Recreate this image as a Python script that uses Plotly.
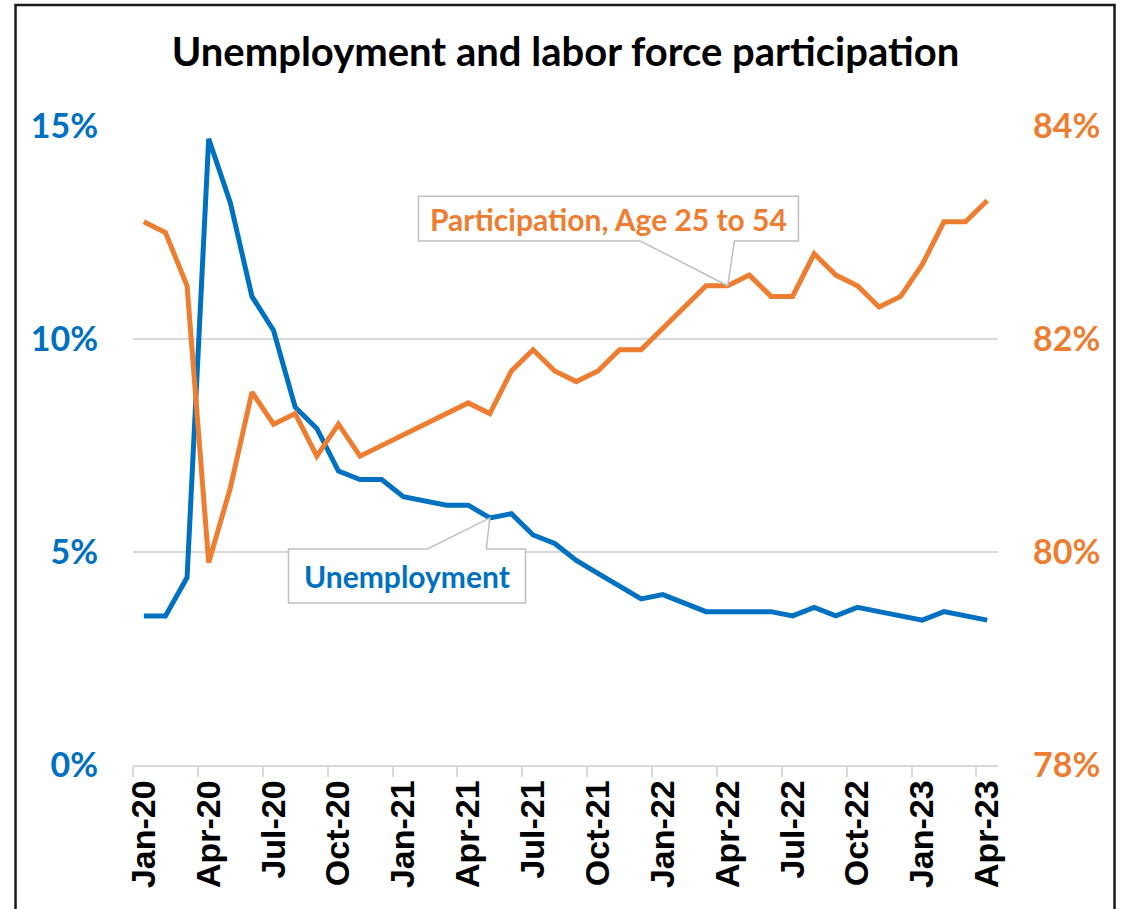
import plotly.graph_objects as go

# Monthly series, Jan-2020 through Apr-2023
month_labels = [f"{m}-{y}" for y in ("20", "21", "22", "23")
                for m in ("Jan", "Feb", "Mar", "Apr", "May", "Jun",
                          "Jul", "Aug", "Sep", "Oct", "Nov", "Dec")][:40]

unemployment = [3.5, 3.5, 4.4, 14.7, 13.2, 11.0, 10.2, 8.4, 7.9, 6.9, 6.7, 6.7,
                6.3, 6.2, 6.1, 6.1, 5.8, 5.9, 5.4, 5.2, 4.8, 4.5, 4.2, 3.9,
                4.0, 3.8, 3.6, 3.6, 3.6, 3.6, 3.5, 3.7, 3.5, 3.7, 3.6, 3.5,
                3.4, 3.6, 3.5, 3.4]

participation = [83.1, 83.0, 82.5, 79.9, 80.6, 81.5, 81.2, 81.3, 80.9, 81.2, 80.9, 81.0,
                 81.1, 81.2, 81.3, 81.4, 81.3, 81.7, 81.9, 81.7, 81.6, 81.7, 81.9, 81.9,
                 82.1, 82.3, 82.5, 82.5, 82.6, 82.4, 82.4, 82.8, 82.6, 82.5, 82.3, 82.4,
                 82.7, 83.1, 83.1, 83.3]

x_tick_labels = ["Jan-20", "Apr-20", "Jul-20", "Oct-20", "Jan-21", "Apr-21", "Jul-21",
                 "Oct-21", "Jan-22", "Apr-22", "Jul-22", "Oct-22", "Jan-23", "Apr-23"]
left_ticks = [0, 5, 10, 15]
right_ticks = [78, 80, 82, 84]

BLUE = "#0070C0"
ORANGE = "#ED7D31"
GRID = "#D9D9D9"
CALLOUT = "#BFBFBF"
LABEL_FONT = "Lato"

x = list(range(len(month_labels)))
tick_pos = [month_labels.index(t) for t in x_tick_labels]

fig = go.Figure()
fig.add_trace(go.Scatter(x=x, y=unemployment, mode="lines", name="Unemployment",
                         line=dict(color=BLUE, width=5), yaxis="y",
                         customdata=month_labels,
                         hovertemplate="%{customdata}: %{y:.1f}%<extra></extra>"))
fig.add_trace(go.Scatter(x=x, y=participation, mode="lines",
                         name="Participation, Age 25 to 54",
                         line=dict(color=ORANGE, width=5), yaxis="y2",
                         customdata=month_labels,
                         hovertemplate="%{customdata}: %{y:.1f}%<extra></extra>"))


def callout(tip_x, tip_y, box, base, yref, text, color):
    """White callout box with a wedge pointing at (tip_x, tip_y)."""
    x0, x1, y_edge, y_far = box
    b0, b1 = base
    path = (f"M {x0},{y_edge} L {b0},{y_edge} L {tip_x},{tip_y} L {b1},{y_edge} "
            f"L {x1},{y_edge} L {x1},{y_far} L {x0},{y_far} Z")
    fig.add_shape(type="path", path=path, xref="x", yref=yref,
                  fillcolor="white", line=dict(color=CALLOUT, width=1.5), layer="above")
    fig.add_annotation(x=(x0 + x1) / 2, y=(y_edge + y_far) / 2, xref="x", yref=yref,
                       text=f"<b>{text}</b>", showarrow=False,
                       font=dict(family=LABEL_FONT, size=30, color=color))


# Unemployment callout: box below the line, wedge rising to May-21
i_u = month_labels.index("May-21")
callout(i_u, unemployment[i_u], (6.69, 17.65, 5.07, 3.80), (13.12, 15.84), "y",
        "Unemployment", BLUE)

# Participation callout: box above the line, wedge dropping to Apr-22
i_p = month_labels.index("Apr-22")
callout(i_p, participation[i_p], (12.70, 30.27, 82.92, 83.34), (22.96, 27.31), "y2",
        "Participation, Age 25 to 54", ORANGE)

# Outer frame
fig.add_shape(type="rect", xref="paper", yref="paper",
              x0=-0.1358, x1=1.1347, y0=-0.30, y1=1.1894,
              line=dict(color="#1a1a1a", width=2.5), fillcolor="rgba(0,0,0,0)")

fig.update_layout(
    width=1127, height=909,
    margin=dict(l=133, r=129, t=126, b=144),
    paper_bgcolor="white", plot_bgcolor="white",
    showlegend=False,
    title=dict(text="<b>Unemployment and labor force participation</b>",
               x=0.5, xanchor="center", y=1 - 52 / 909, yanchor="middle",
               xref="paper", yref="container",
               font=dict(family=LABEL_FONT, size=40, color="black")),
    xaxis=dict(range=[-0.5, 39.5], tickmode="array", tickvals=tick_pos,
               ticktext=[f"<b>{t}</b>" for t in x_tick_labels], tickangle=-90, ticks="",
               tickfont=dict(family="Liberation Sans", size=34, color="black"),
               showgrid=False, zeroline=False, showline=True,
               linecolor=GRID, linewidth=1.5,
               minor=dict(ticks="outside", tick0=-0.5, dtick=3, ticklen=10,
                          tickcolor=GRID, tickwidth=1.5, showgrid=False)),
    yaxis=dict(range=[0, 15], tickmode="array", tickvals=left_ticks,
               ticktext=[f"<b>{v}%</b>" for v in left_ticks],
               tickfont=dict(family=LABEL_FONT, size=34, color=BLUE),
               showgrid=True, gridcolor=GRID, gridwidth=1.5, zeroline=False,
               showline=False, ticks="", ticklabelstandoff=34),
    yaxis2=dict(range=[78, 84], tickmode="array", tickvals=right_ticks,
                ticktext=[f"<b>{v}%</b>" for v in right_ticks],
                tickfont=dict(family=LABEL_FONT, size=34, color=ORANGE),
                overlaying="y", side="right", showgrid=False, zeroline=False,
                showline=False, ticks="", ticklabelstandoff=34),
)

fig.write_html("out.html")
